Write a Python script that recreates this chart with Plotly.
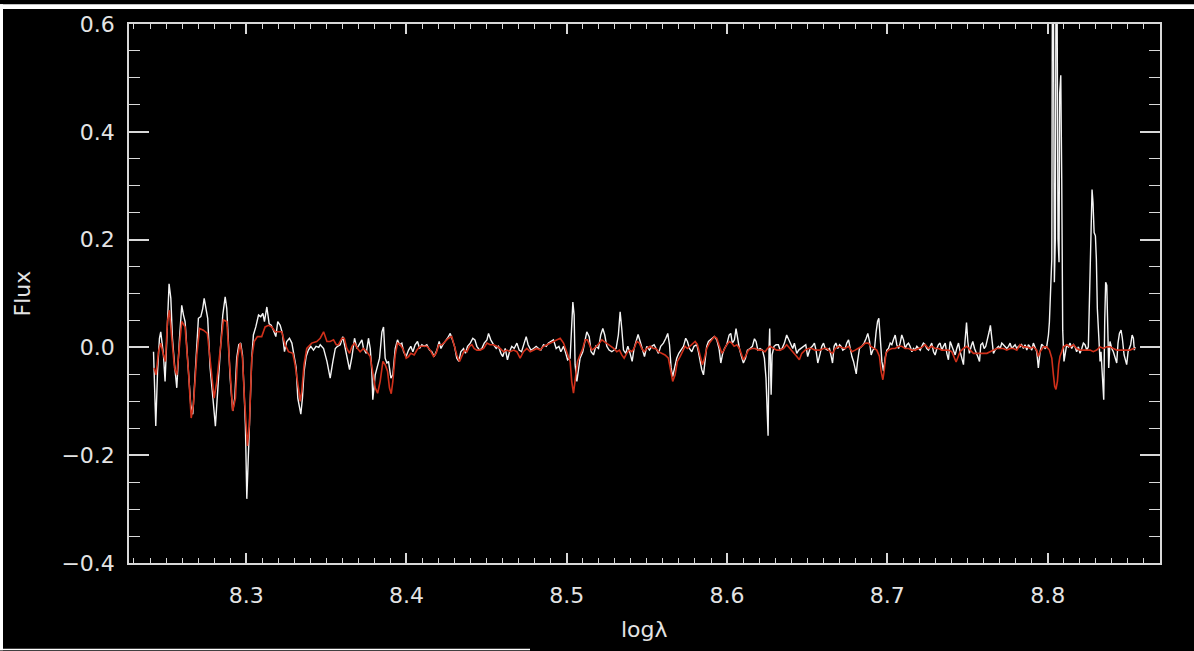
import plotly.graph_objects as go

# Observed spectrum (white), log-wavelength vs flux
white_pts = [
    (8.2422, -0.008), (8.2428, -0.094), (8.2436, -0.146), (8.2447, -0.045), (8.2459, 0.017),
    (8.2467, 0.029), (8.2484, -0.014), (8.2494, -0.063), (8.2505, 0.011), (8.2519, 0.118),
    (8.2530, 0.091), (8.2540, 0.017), (8.2553, -0.032), (8.2567, -0.075), (8.2584, 0.017),
    (8.2598, 0.078), (8.2609, 0.060), (8.2619, 0.048), (8.2630, -0.002), (8.2640, -0.045),
    (8.2654, -0.106), (8.2667, -0.124), (8.2681, -0.045), (8.2692, 0.017), (8.2702, 0.054),
    (8.2717, 0.057), (8.2729, 0.072), (8.2738, 0.091), (8.2750, 0.072), (8.2760, 0.054),
    (8.2775, -0.038), (8.2788, -0.088), (8.2796, -0.106), (8.2808, -0.146), (8.2821, -0.094),
    (8.2837, -0.014), (8.2854, 0.060), (8.2869, 0.094), (8.2879, 0.072), (8.2889, 0.017),
    (8.2900, -0.057), (8.2916, -0.118), (8.2929, -0.094), (8.2941, -0.020), (8.2954, 0.005),
    (8.2966, 0.008), (8.2977, -0.014), (8.2987, -0.081), (8.2995, -0.143), (8.3004, -0.281),
    (8.3014, -0.180), (8.3025, -0.106), (8.3035, -0.020), (8.3045, 0.023), (8.3060, 0.038),
    (8.3077, 0.060), (8.3091, 0.057), (8.3104, 0.063), (8.3114, 0.048), (8.3129, 0.075),
    (8.3143, 0.044), (8.3156, 0.041), (8.3170, 0.032), (8.3185, 0.020), (8.3197, 0.048),
    (8.3212, 0.041), (8.3226, 0.026), (8.3239, -0.008), (8.3253, 0.011), (8.3270, 0.017),
    (8.3285, 0.008), (8.3299, -0.014), (8.3312, -0.038), (8.3322, -0.094), (8.3332, -0.112),
    (8.3341, -0.124), (8.3351, -0.094), (8.3361, -0.045), (8.3374, -0.017), (8.3388, -0.005),
    (8.3403, 0.002), (8.3420, -0.005), (8.3436, 0.002), (8.3453, 0.000),
    (8.3462, 0.005), (8.3483, -0.002), (8.3504, -0.026), (8.3524, -0.057), (8.3541, -0.026),
    (8.3556, -0.002), (8.3570, 0.002), (8.3587, 0.005), (8.3603, 0.020), (8.3618, -0.002),
    (8.3632, -0.020), (8.3645, -0.041), (8.3660, -0.017), (8.3676, 0.017), (8.3691, -0.002),
    (8.3707, 0.005), (8.3722, 0.014), (8.3732, -0.002), (8.3749, -0.011), (8.3763, 0.017),
    (8.3774, -0.002), (8.3784, -0.044), (8.3790, -0.097), (8.3805, -0.051), (8.3820, -0.032),
    (8.3832, -0.020), (8.3847, 0.029), (8.3857, 0.038), (8.3867, -0.020), (8.3878, -0.029),
    (8.3888, -0.026), (8.3903, -0.057), (8.3915, -0.051), (8.3930, -0.002), (8.3944, 0.014),
    (8.3957, 0.005), (8.3971, 0.008), (8.3982, -0.008), (8.3998, -0.017), (8.4013, -0.005),
    (8.4027, 0.002), (8.4040, -0.008), (8.4054, 0.005), (8.4069, 0.011), (8.4082, -0.002),
    (8.4096, 0.005), (8.4111, 0.002), (8.4127, 0.005), (8.4144, -0.005), (8.4158, -0.008),
    (8.4173, -0.017), (8.4190, -0.005), (8.4204, 0.011), (8.4215, -0.002), (8.4227, 0.005),
    (8.4242, 0.011), (8.4256, 0.017), (8.4273, 0.026), (8.4287, 0.014), (8.4300, 0.002),
    (8.4314, -0.020), (8.4327, -0.026), (8.4339, -0.008), (8.4356, -0.002), (8.4368, -0.011),
    (8.4381, 0.002), (8.4398, 0.008), (8.4414, 0.017), (8.4427, 0.014), (8.4439, 0.002),
    (8.4456, -0.005), (8.4470, -0.002), (8.4485, 0.008), (8.4502, 0.014), (8.4512, 0.026),
    (8.4526, 0.014), (8.4543, 0.005), (8.4560, -0.002), (8.4574, 0.002), (8.4589, -0.011),
    (8.4601, -0.017), (8.4616, -0.002), (8.4630, -0.023), (8.4643, -0.008), (8.4657, 0.002),
    (8.4672, -0.002), (8.4689, 0.008), (8.4703, -0.005), (8.4718, -0.008), (8.4734, 0.008),
    (8.4747, 0.020), (8.4759, 0.005), (8.4776, -0.005), (8.4793, -0.002), (8.4809, 0.002),
    (8.4824, -0.002), (8.4838, -0.005), (8.4855, 0.005), (8.4872, 0.002), (8.4886, 0.008),
    (8.4901, 0.011), (8.4917, 0.014), (8.4934, -0.002), (8.4951, 0.002), (8.4963, -0.008),
    (8.4980, 0.002), (8.4994, -0.011), (8.5005, -0.023),
    (8.5021, -0.020), (8.5031, 0.041), (8.5038, 0.084), (8.5046, 0.060), (8.5052, -0.032),
    (8.5063, -0.063), (8.5073, -0.038), (8.5083, -0.020), (8.5100, -0.008), (8.5115, 0.017),
    (8.5125, 0.029), (8.5140, 0.020), (8.5152, -0.008), (8.5167, -0.014), (8.5181, 0.002),
    (8.5198, -0.002), (8.5212, 0.023), (8.5225, 0.035), (8.5237, 0.023), (8.5250, 0.002),
    (8.5264, -0.005), (8.5281, -0.008), (8.5295, -0.005), (8.5308, -0.002), (8.5322, 0.023),
    (8.5333, 0.066), (8.5343, 0.035), (8.5354, -0.005), (8.5368, -0.011), (8.5381, 0.002),
    (8.5395, -0.011), (8.5408, -0.026), (8.5420, -0.002), (8.5433, 0.014), (8.5445, 0.024),
    (8.5458, 0.011), (8.5472, -0.005), (8.5485, -0.017), (8.5499, 0.002), (8.5516, -0.005),
    (8.5530, 0.002), (8.5545, 0.005), (8.5557, -0.002), (8.5572, -0.011), (8.5586, 0.002),
    (8.5603, 0.008), (8.5618, 0.017), (8.5630, 0.026), (8.5641, 0.005), (8.5651, -0.038),
    (8.5661, -0.054), (8.5672, -0.041), (8.5686, -0.020), (8.5699, -0.011), (8.5713, -0.005),
    (8.5728, 0.002), (8.5742, 0.017), (8.5753, 0.011), (8.5765, -0.002), (8.5780, -0.008),
    (8.5794, 0.002), (8.5811, 0.005), (8.5821, -0.008), (8.5832, -0.026), (8.5842, -0.041),
    (8.5853, -0.051), (8.5863, -0.026), (8.5873, 0.002), (8.5884, 0.011), (8.5898, 0.014),
    (8.5911, 0.017), (8.5921, 0.020), (8.5936, 0.014), (8.5950, -0.002), (8.5961, -0.029),
    (8.5973, -0.011), (8.5984, -0.002), (8.5998, 0.005), (8.6013, 0.023), (8.6023, 0.026),
    (8.6033, 0.008), (8.6046, 0.014), (8.6056, 0.035), (8.6067, 0.014), (8.6077, -0.002),
    (8.6090, -0.017), (8.6102, -0.029), (8.6115, -0.020), (8.6127, -0.005), (8.6144, -0.002),
    (8.6158, 0.002), (8.6171, 0.016), (8.6181, 0.011), (8.6192, -0.005), (8.6206, -0.002),
    (8.6221, -0.005), (8.6233, -0.020), (8.6243, -0.057), (8.6250, -0.124), (8.6256, -0.164),
    (8.6262, -0.002), (8.6266, 0.035), (8.6275, -0.088), (8.6281, -0.014), (8.6293, 0.002),
    (8.6306, 0.005), (8.6320, 0.005), (8.6331, -0.005), (8.6343, -0.002), (8.6358, 0.008),
    (8.6372, 0.023), (8.6385, 0.014), (8.6397, 0.005), (8.6410, -0.002), (8.6420, 0.008),
    (8.6435, -0.011), (8.6447, -0.005), (8.6460, -0.002), (8.6477, 0.002), (8.6491, 0.005),
    (8.6503, -0.017), (8.6518, -0.002), (8.6532, 0.002), (8.6545, 0.008), (8.6555, -0.005),
    (8.6566, -0.029),
    (8.6581, -0.011), (8.6591, 0.002), (8.6602, 0.008), (8.6612, -0.002), (8.6627, -0.005),
    (8.6639, -0.002), (8.6650, -0.017), (8.6658, -0.029), (8.6668, 0.002), (8.6679, 0.008),
    (8.6691, -0.002), (8.6702, 0.005), (8.6712, 0.002), (8.6722, -0.005), (8.6737, -0.002),
    (8.6747, 0.008), (8.6758, 0.014), (8.6768, -0.002), (8.6779, -0.017), (8.6789, -0.026),
    (8.6799, -0.041), (8.6806, -0.049), (8.6814, -0.026), (8.6826, -0.002), (8.6841, 0.002),
    (8.6855, 0.008), (8.6868, 0.017), (8.6878, 0.026), (8.6889, 0.011), (8.6899, -0.014),
    (8.6910, -0.005), (8.6920, -0.002), (8.6930, 0.029), (8.6939, 0.048), (8.6947, 0.054),
    (8.6955, 0.023), (8.6966, -0.026), (8.6976, -0.044), (8.6986, -0.020), (8.6997, -0.005),
    (8.7007, -0.002), (8.7018, 0.008), (8.7028, 0.005), (8.7038, 0.014), (8.7049, 0.023),
    (8.7059, 0.005), (8.7070, -0.002), (8.7080, 0.008), (8.7090, 0.023), (8.7101, 0.014),
    (8.7111, -0.002), (8.7122, 0.005), (8.7132, 0.008), (8.7142, 0.002), (8.7153, -0.008),
    (8.7163, -0.002), (8.7174, -0.005), (8.7184, 0.002), (8.7194, -0.002), (8.7205, -0.005),
    (8.7215, 0.002), (8.7225, 0.008), (8.7236, 0.005), (8.7246, -0.002), (8.7257, -0.005),
    (8.7267, 0.002), (8.7277, 0.008), (8.7288, -0.008), (8.7298, -0.014), (8.7309, -0.002),
    (8.7319, 0.005), (8.7329, 0.008), (8.7340, -0.005), (8.7350, 0.002), (8.7361, 0.008),
    (8.7371, -0.011), (8.7381, -0.023), (8.7392, 0.011), (8.7402, 0.002), (8.7413, -0.008),
    (8.7423, -0.014), (8.7433, -0.002), (8.7444, 0.008), (8.7454, -0.008), (8.7465, -0.020),
    (8.7475, -0.032), (8.7481, -0.002), (8.7487, 0.029), (8.7494, 0.046), (8.7502, 0.011),
    (8.7512, -0.011), (8.7523, 0.002), (8.7533, 0.011), (8.7544, -0.002), (8.7554, -0.008),
    (8.7564, -0.017), (8.7575, -0.026), (8.7583, 0.005), (8.7594, 0.008), (8.7604, -0.002),
    (8.7614, 0.002), (8.7625, 0.014), (8.7635, 0.029), (8.7643, 0.041), (8.7654, 0.011),
    (8.7662, -0.011), (8.7672, -0.005), (8.7683, -0.002), (8.7693, 0.002), (8.7704, -0.002),
    (8.7714, 0.008), (8.7724, 0.005), (8.7735, 0.002), (8.7745, -0.002), (8.7756, 0.002),
    (8.7766, 0.008), (8.7776, -0.002), (8.7787, 0.002), (8.7797, 0.005), (8.7808, -0.002),
    (8.7818, 0.002),
    (8.7828, 0.001), (8.7838, 0.005), (8.7849, -0.002), (8.7859, 0.005), (8.7870, -0.005),
    (8.7880, 0.005), (8.7890, 0.001), (8.7901, -0.005), (8.7911, 0.008), (8.7922, 0.001),
    (8.7932, -0.008), (8.7942, -0.038), (8.7953, -0.008), (8.7963, 0.006), (8.7974, 0.001),
    (8.7984, -0.002), (8.7994, 0.001), (8.8005, 0.023), (8.8011, 0.047), (8.8019, 0.109),
    (8.8026, 0.164), (8.8030, 0.700), (8.8036, 0.680), (8.8042, 0.121), (8.8048, 0.201),
    (8.8052, 0.660), (8.8059, 0.640), (8.8065, 0.201), (8.8071, 0.158), (8.8075, 0.471),
    (8.8082, 0.505), (8.8088, 0.311), (8.8094, 0.032), (8.8102, -0.026), (8.8111, -0.008),
    (8.8119, 0.005), (8.8129, 0.001), (8.8140, 0.008), (8.8150, -0.002), (8.8161, 0.005),
    (8.8171, 0.001), (8.8181, -0.008), (8.8192, 0.001), (8.8202, -0.011), (8.8213, -0.002),
    (8.8223, 0.008), (8.8233, 0.005), (8.8244, -0.005), (8.8254, 0.001), (8.8260, 0.084),
    (8.8269, 0.207), (8.8277, 0.293), (8.8283, 0.269), (8.8290, 0.213), (8.8298, 0.207),
    (8.8304, 0.164), (8.8310, 0.072), (8.8319, 0.011), (8.8327, -0.026), (8.8333, -0.008),
    (8.8339, -0.038), (8.8346, -0.063), (8.8350, -0.097), (8.8356, 0.047), (8.8362, 0.121),
    (8.8369, 0.115), (8.8375, 0.038), (8.8381, -0.038), (8.8389, 0.011), (8.8400, -0.002),
    (8.8410, -0.008), (8.8420, -0.020), (8.8431, -0.029), (8.8439, 0.008), (8.8448, 0.026),
    (8.8458, 0.032), (8.8466, 0.017), (8.8477, -0.014), (8.8485, -0.023), (8.8493, -0.032),
    (8.8502, -0.008), (8.8510, -0.002), (8.8518, 0.005), (8.8527, 0.023), (8.8535, 0.017),
    (8.8541, -0.005), (8.8545, 0.001),
]

# Model fit (red)
model_pts = [
    (8.2426, -0.038), (8.2438, -0.051), (8.2453, -0.008), (8.2467, 0.008), (8.2484, -0.014),
    (8.2496, -0.026), (8.2509, 0.048), (8.2521, 0.069), (8.2536, 0.017), (8.2553, -0.038),
    (8.2567, -0.051), (8.2584, 0.005), (8.2598, 0.048), (8.2619, 0.038), (8.2640, -0.045),
    (8.2657, -0.131), (8.2671, -0.106), (8.2692, -0.014), (8.2709, 0.035), (8.2733, 0.032),
    (8.2758, 0.026), (8.2785, -0.051), (8.2800, -0.094), (8.2817, -0.063), (8.2837, -0.002),
    (8.2858, 0.051), (8.2879, 0.048), (8.2896, -0.020), (8.2916, -0.118), (8.2933, -0.094),
    (8.2946, -0.020), (8.2962, 0.008), (8.2977, -0.020), (8.2989, -0.094), (8.2999, -0.143),
    (8.3008, -0.183), (8.3020, -0.143), (8.3035, -0.020), (8.3050, 0.011), (8.3070, 0.020),
    (8.3097, 0.020), (8.3118, 0.038), (8.3139, 0.041), (8.3160, 0.038), (8.3181, 0.029),
    (8.3201, 0.029), (8.3222, 0.029), (8.3243, 0.005), (8.3264, -0.008), (8.3291, -0.011),
    (8.3305, -0.032), (8.3326, -0.075), (8.3337, -0.100), (8.3347, -0.081), (8.3361, -0.032),
    (8.3378, -0.002), (8.3409, 0.008), (8.3440, 0.011),
    (8.3462, 0.017), (8.3483, 0.029), (8.3504, 0.011), (8.3524, 0.011), (8.3545, 0.014),
    (8.3562, 0.005), (8.3576, 0.005), (8.3597, 0.017), (8.3612, 0.017), (8.3628, -0.002),
    (8.3645, -0.011), (8.3660, 0.002), (8.3676, 0.008), (8.3695, -0.002), (8.3711, -0.008),
    (8.3732, -0.002), (8.3753, -0.008), (8.3774, -0.017), (8.3790, -0.044), (8.3805, -0.075),
    (8.3820, -0.085), (8.3836, -0.063), (8.3853, -0.026), (8.3867, -0.032), (8.3882, -0.044),
    (8.3894, -0.075), (8.3905, -0.086), (8.3915, -0.063), (8.3930, -0.014), (8.3944, 0.008),
    (8.3961, 0.005), (8.3982, -0.005), (8.3998, -0.020), (8.4013, -0.017), (8.4027, -0.011),
    (8.4048, -0.014), (8.4065, -0.005), (8.4086, 0.002), (8.4106, 0.002), (8.4127, 0.002),
    (8.4148, -0.005), (8.4169, -0.017), (8.4185, -0.011), (8.4202, 0.005), (8.4221, 0.005),
    (8.4242, 0.011), (8.4262, 0.017), (8.4283, 0.020), (8.4298, 0.005), (8.4314, -0.014),
    (8.4331, -0.026), (8.4346, -0.014), (8.4362, -0.005), (8.4377, -0.008), (8.4393, 0.002),
    (8.4408, 0.005), (8.4422, -0.002), (8.4439, -0.005), (8.4460, -0.005), (8.4481, -0.002),
    (8.4502, 0.008), (8.4522, 0.005), (8.4543, 0.005), (8.4564, 0.002), (8.4585, -0.002),
    (8.4606, -0.008), (8.4626, -0.005), (8.4647, -0.008), (8.4668, -0.005), (8.4689, -0.008),
    (8.4709, -0.020), (8.4730, -0.008), (8.4751, -0.002), (8.4772, -0.008), (8.4793, -0.005),
    (8.4813, -0.002), (8.4834, -0.005), (8.4855, 0.002), (8.4876, 0.005), (8.4897, 0.008),
    (8.4917, 0.011), (8.4938, 0.014), (8.4959, 0.017), (8.4980, 0.008), (8.5000, -0.008),
    (8.5021, -0.026), (8.5031, -0.063), (8.5042, -0.085), (8.5054, -0.057), (8.5067, -0.026),
    (8.5083, -0.014), (8.5100, -0.002), (8.5115, 0.014), (8.5129, 0.014), (8.5142, 0.005),
    (8.5156, -0.005), (8.5171, -0.002), (8.5187, 0.002), (8.5204, 0.008), (8.5219, 0.014),
    (8.5233, 0.011), (8.5250, 0.008), (8.5266, 0.005), (8.5281, 0.002), (8.5295, -0.002),
    (8.5312, -0.008), (8.5329, -0.005), (8.5343, -0.014), (8.5358, -0.020), (8.5374, -0.011),
    (8.5391, -0.005), (8.5406, -0.008), (8.5420, -0.002), (8.5437, 0.011), (8.5453, 0.008),
    (8.5468, -0.002), (8.5483, -0.008), (8.5499, -0.002), (8.5520, 0.002), (8.5541, -0.002),
    (8.5557, -0.002), (8.5572, -0.008), (8.5593, -0.011), (8.5613, -0.014), (8.5634, -0.020),
    (8.5649, -0.044), (8.5661, -0.063), (8.5676, -0.051), (8.5690, -0.026), (8.5707, -0.017),
    (8.5724, -0.008), (8.5738, 0.002), (8.5753, -0.002), (8.5769, 0.002), (8.5786, 0.008),
    (8.5801, 0.011), (8.5815, 0.005), (8.5832, -0.014), (8.5846, -0.032), (8.5859, -0.020),
    (8.5873, -0.002), (8.5890, 0.008), (8.5905, 0.014), (8.5921, 0.020), (8.5936, 0.017),
    (8.5952, 0.002), (8.5967, -0.011), (8.5981, -0.005), (8.5998, 0.005), (8.6015, 0.011),
    (8.6029, 0.008), (8.6044, 0.002), (8.6061, 0.005), (8.6077, -0.002), (8.6092, -0.014),
    (8.6102, -0.023), (8.6119, -0.014), (8.6133, -0.005), (8.6154, -0.002), (8.6175, -0.002),
    (8.6196, -0.005), (8.6216, -0.005), (8.6237, -0.008), (8.6252, -0.002), (8.6268, 0.002),
    (8.6289, -0.002), (8.6310, -0.005), (8.6331, -0.005), (8.6352, -0.002), (8.6372, 0.005),
    (8.6393, -0.002), (8.6414, -0.008), (8.6435, -0.017), (8.6451, -0.023), (8.6466, -0.011),
    (8.6487, -0.005), (8.6508, -0.002), (8.6528, -0.002), (8.6549, -0.005), (8.6570, -0.005),
    (8.6581, -0.005), (8.6602, -0.002), (8.6623, -0.002), (8.6643, -0.008), (8.6658, -0.011),
    (8.6675, -0.002), (8.6695, 0.002), (8.6716, 0.000), (8.6737, -0.002), (8.6758, 0.002),
    (8.6779, -0.008), (8.6799, -0.005), (8.6820, -0.002), (8.6841, 0.002), (8.6862, 0.008),
    (8.6882, 0.008), (8.6897, 0.002), (8.6914, -0.002), (8.6934, -0.005), (8.6951, -0.017),
    (8.6961, -0.044), (8.6972, -0.060), (8.6980, -0.044), (8.6991, -0.011), (8.7007, -0.005),
    (8.7028, -0.002), (8.7049, -0.002), (8.7070, 0.002), (8.7090, 0.002), (8.7111, -0.002),
    (8.7132, -0.002), (8.7153, -0.005), (8.7174, -0.005), (8.7194, -0.002), (8.7215, 0.000),
    (8.7236, 0.005), (8.7257, -0.002), (8.7277, 0.002), (8.7298, -0.002), (8.7319, -0.002),
    (8.7340, -0.005), (8.7361, -0.005), (8.7381, -0.005), (8.7402, -0.008), (8.7417, -0.017),
    (8.7429, -0.027), (8.7442, -0.017), (8.7454, -0.008), (8.7475, -0.002), (8.7496, 0.002),
    (8.7517, -0.005), (8.7537, -0.011), (8.7558, -0.011), (8.7579, -0.011), (8.7600, -0.011),
    (8.7621, -0.011), (8.7641, -0.008), (8.7662, -0.005), (8.7683, -0.002), (8.7704, -0.002),
    (8.7724, -0.002), (8.7745, -0.005), (8.7766, -0.002), (8.7787, -0.002), (8.7808, -0.005),
    (8.7828, 0.005), (8.7849, 0.001), (8.7870, 0.001), (8.7890, -0.002), (8.7911, 0.001),
    (8.7932, -0.005), (8.7942, -0.017), (8.7953, -0.008), (8.7974, 0.001), (8.7994, 0.001),
    (8.8011, -0.005), (8.8026, -0.020), (8.8036, -0.051), (8.8044, -0.072), (8.8052, -0.078),
    (8.8061, -0.063), (8.8069, -0.032), (8.8077, -0.017), (8.8088, -0.008), (8.8098, 0.001),
    (8.8119, 0.005), (8.8140, 0.001), (8.8161, 0.005), (8.8181, -0.002), (8.8202, -0.005),
    (8.8223, -0.005), (8.8244, -0.005), (8.8265, -0.005), (8.8285, -0.008), (8.8306, -0.005),
    (8.8327, 0.001), (8.8348, -0.002), (8.8369, 0.001), (8.8389, 0.001), (8.8410, -0.002),
    (8.8431, -0.005), (8.8452, -0.005), (8.8472, -0.005), (8.8493, -0.005), (8.8514, -0.005),
    (8.8535, -0.002), (8.8545, -0.002),
]

x_range = [8.2269, 8.8701]
y_range = [-0.4, 0.6]
x_tickvals = [8.3, 8.4, 8.5, 8.6, 8.7, 8.8]
x_ticktext = ["8.3", "8.4", "8.5", "8.6", "8.7", "8.8"]
y_tickvals = [-0.4, -0.2, 0.0, 0.2, 0.4, 0.6]
y_ticktext = ["\u22120.4", "\u22120.2", "0.0", "0.2", "0.4", "0.6"]

white_x, white_y = zip(*white_pts)
model_x, model_y = zip(*model_pts)

W, H = 1194, 651
ML, MR, MT, MB = 129, 34, 20, 88
FG = "#e4e4e4"
FONT = "DejaVu Sans"
FS = 22

fig = go.Figure()
fig.add_trace(go.Scatter(x=white_x, y=white_y, mode="lines",
                         line=dict(color="#f4f4f4", width=1.4), hoverinfo="skip",
                         showlegend=False))
fig.add_trace(go.Scatter(x=model_x, y=model_y, mode="lines",
                         line=dict(color="#d0301a", width=1.6), hoverinfo="skip",
                         showlegend=False))

axis_common = dict(showgrid=False, zeroline=False, showline=True, linecolor="#d8d8d8",
                   linewidth=1.5, mirror="allticks", ticks="inside", tickcolor="#d8d8d8",
                   tickwidth=1.5, tickfont=dict(family=FONT, size=FS, color=FG))

fig.update_xaxes(range=x_range, tickvals=x_tickvals, ticktext=x_ticktext, ticklen=10,
                 ticklabelstandoff=12,
                 minor=dict(dtick=0.01, tick0=8.2, ticks="inside", ticklen=5,
                            tickcolor="#d8d8d8", tickwidth=1.3),
                 **axis_common)
fig.update_yaxes(range=y_range, tickvals=y_tickvals, ticktext=y_ticktext, ticklen=20,
                 ticklabelstandoff=8,
                 minor=dict(dtick=0.05, tick0=0, ticks="inside", ticklen=11,
                            tickcolor="#d8d8d8", tickwidth=1.3),
                 **axis_common)

def px_x(X):
    return (X - ML) / (W - ML - MR)

def px_y(Y):
    return (H - MB - Y) / (H - MT - MB)

fig.update_layout(
    width=W, height=H,
    margin=dict(l=ML, r=MR, t=MT, b=MB, pad=0),
    paper_bgcolor="black", plot_bgcolor="black",
    showlegend=False,
    shapes=[
        dict(type="rect", xref="paper", yref="paper", x0=px_x(0), x1=px_x(W),
             y0=px_y(5), y1=px_y(0), fillcolor="white", line_width=0, layer="below"),
        dict(type="rect", xref="paper", yref="paper", x0=px_x(0), x1=px_x(3),
             y0=px_y(H), y1=px_y(0), fillcolor="white", line_width=0, layer="below"),
        dict(type="rect", xref="paper", yref="paper", x0=px_x(0), x1=px_x(530),
             y0=px_y(H), y1=px_y(649.5), fillcolor="white", line_width=0, layer="below"),
    ],
    annotations=[
        dict(text="Flux", xref="paper", yref="paper", x=px_x(22), y=0.5, showarrow=False,
             textangle=-90, font=dict(family=FONT, size=FS, color=FG),
             xanchor="center", yanchor="middle"),
        dict(text="log\u03bb", xref="paper", yref="paper", x=0.5, y=px_y(630), showarrow=False,
             font=dict(family=FONT, size=FS, color=FG), xanchor="center", yanchor="middle"),
    ],
)

fig.write_html("out.html", config=dict(displayModeBar=False))
